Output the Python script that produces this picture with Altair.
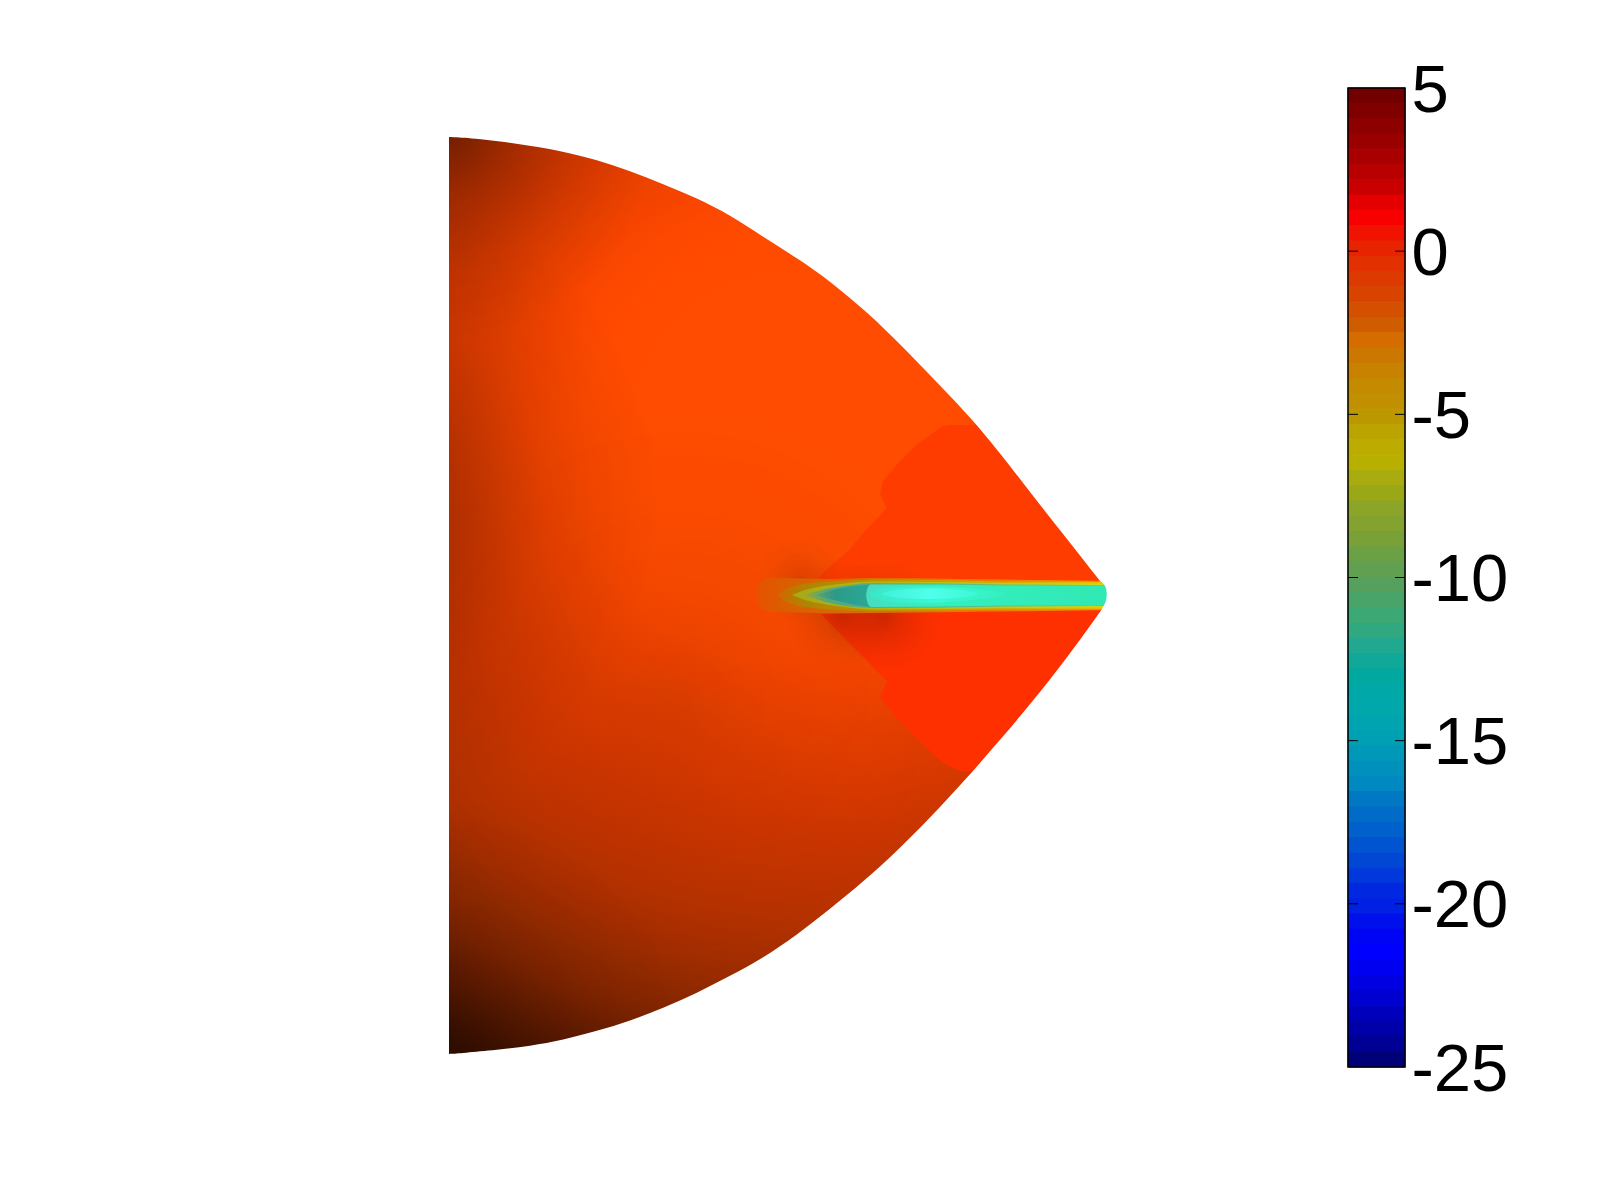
import altair as alt
import pandas as pd

# ---------- colour bar ----------
BAR_TOP, BAR_BOTTOM = 5, -25
TICKS = [5, 0, -5, -10, -15, -20, -25]
INNER_TICKS = [0, -5, -10, -15, -20]
BAND_COLOURS = """#720000 #800000 #8c0000 #9a0000 #a80000 #b80000 #c80000 #e40000 #f80000 #f01400
#e82400 #e23000 #dc3a00 #d84400 #d45000 #d05c00 #d46c00 #cc7800 #c88200 #c48a00
#c09000 #bc9800 #bca400 #bcac00 #b8b000 #a8ac10 #9aa818 #8ca428 #84a230 #7aa038
#6ca044 #60a050 #54a05c #48a468 #3ca874 #30a880 #20a890 #10a898 #00a8a0 #00a8a8
#00a8ac #00a4b0 #00a0b4 #0098b8 #0090bc #0088c0 #0078c4 #006cc8 #0060cc #0054d0
#0048d4 #0038dc #0028e0 #0020e4 #0010ec #0004f4 #0000ff #0000f0 #0000e0 #0000d0
#0000bc #0000a8 #000094 #000078""".split()

# ---------- surface outline: horizontal extent of the surface per row ----------
EDGE_Y = [136, 136, 137, 142, 150, 159, 170, 183, 197, 214, 236, 257, 280, 312, 343, 374, 400, 424, 452,
          495, 538, 580, 580, 582, 586, 593, 601, 606, 608, 608, 657, 700, 739, 777, 817, 850, 881, 908, 934,
          957, 975, 992, 1007, 1020, 1030, 1039, 1045, 1049, 1052, 1053, 1053]
EDGE_X = [449, 449, 473, 513, 563, 597, 630, 663, 697, 730, 763, 797, 830, 868, 900, 930, 955, 977, 1000,
          1033, 1067, 1100, 1100, 1103, 1106, 1107, 1106, 1103, 1102, 1102, 1067, 1033, 1000, 967, 930, 897, 863, 830, 797,
          763, 730, 697, 663, 630, 597, 563, 530, 497, 463, 449, 449]

# ---------- broad shading of the surface ----------
SHADE_CENTRE = (790, 430)
SHADE_REACH = 740
SHADE_RADIUS = [0, 150, 200, 230, 260, 290, 320, 360, 400, 440, 480, 520, 560, 600, 640, 680, 720, 740]
SHADE_COLOUR = ["#ff4c00", "#ff4c00", "#ff4a00", "#fc4800", "#f64400", "#ee4200", "#e63e00", "#dc3a00",
                "#d03600", "#c43400", "#b83200", "#a82e00", "#942a00", "#802400", "#641c00", "#481400",
                "#340e00", "#2c0c00"]

# Darkening blobs: centre x, centre y, reach, peak darkness at the centre
BLOB_X = [445, 440, 330, 680]
BLOB_Y = [130, 1060, 500, 700]
BLOB_R = [210, 260, 330, 300]
BLOB_DARK = [0.42, 0.25, 0.42, 0.09]
WAKE_X = [840, 885, 800]
WAKE_Y = [612, 615, 580]
WAKE_R = [55, 60, 45]
WAKE_DARK = [0.20, 0.18, 0.12]

# ---------- darker red patch ahead of the nose ----------
PATCH_UP_Y = [424, 425, 443, 460, 480, 493, 507, 528, 550, 570, 585, 594]
PATCH_UP_X = [950, 943, 917, 900, 883, 880, 887, 867, 848, 825, 812, 806]
PATCH_LO_Y = [594, 604, 617, 643, 665, 680, 697, 720, 745, 762, 770]
PATCH_LO_X = [806, 812, 825, 850, 872, 887, 880, 900, 925, 943, 960]

# ---------- nested contours of the streak: colour stops, x, upper y, lower y ----------
STREAK = [
    ([(0, "#e85200"), (0.10, "#d86000"), (1, "#f09000")], [756, 758, 763, 773, 800, 830, 870, 960, 1040, 1109],
     [594, 585, 579, 577, 577.5, 578, 577, 578, 579, 580],
     [594, 603, 609, 611, 611.5, 612.5, 612, 611, 610, 609]),
    ([(0, "#d06800"), (0.08, "#b08400"), (1, "#e8c000")], [778, 784, 795, 810, 840, 873, 940, 1005, 1109],
     [594, 589, 585, 582, 580, 578.5, 579, 580.5, 581],
     [594, 600, 604, 606.5, 609, 610, 609.5, 608.5, 608]),
    ([(0, "#a8a818"), (1, "#d8d810")], [792, 802, 818, 840, 873, 940, 1005, 1109],
     [594, 590, 586, 583, 580.5, 581, 582, 582.5],
     [594, 598, 602, 605.5, 608.5, 608, 607, 606.5]),
    ([(0, "#98a830"), (0.08, "#50a880"), (1, "#60d090")], [804, 816, 832, 850, 873, 940, 1005, 1109],
     [594, 590.5, 587, 584, 582, 582.5, 583.5, 584],
     [594, 598, 602.5, 605.5, 607, 606.5, 605.5, 605]),
    ([(0, "#60a070"), (0.35, "#2c9a88"), (1, "#2aa898")], [816, 828, 842, 860, 870],
     [594, 590.5, 587, 584.5, 583.5],
     [594, 597.5, 601, 604.5, 606]),
    ([(0, "#48dcc0"), (0.25, "#34f0c0"), (1, "#30e8b4")], [866, 868, 871, 940, 1005, 1109],
     [594, 586, 583.5, 583.5, 584.5, 585],
     [594, 603, 606, 605.5, 604.5, 604]),
    ([(0, "#38e8c8"), (0.5, "#3cf8d4"), (1, "#34f0c0")], [870, 885, 920, 960, 1005],
     [592, 587, 585.5, 586.5, 592],
     [595, 600, 602, 600, 595]),
    ([(0, "#40f0d8"), (0.5, "#50ffec"), (1, "#3cf8d4")], [882, 900, 930, 955, 978],
     [592, 588.5, 587.5, 588.5, 592],
     [594, 597, 598, 597, 594]),
]

X0, X1 = 449, 1109
Y0, Y1 = 87, 1066
x_scale = alt.Scale(domain=[X0, X1], nice=False, zero=False)
y_scale = alt.Scale(domain=[Y1, Y0], nice=False, zero=False)
X = alt.X("x:Q", scale=x_scale, axis=None)
Y = alt.Y("y:Q", scale=y_scale, axis=None)


def radial(stops):
    return alt.RadialGradient(gradient="radial", x1=0.5, y1=0.5, x2=0.5, y2=0.5, r1=0, r2=0.5,
                              stops=[alt.GradientStop(offset=o, color=c) for o, c in stops])


def linear(stops):
    return alt.LinearGradient(gradient="linear", x1=0, y1=0, x2=1, y2=0,
                              stops=[alt.GradientStop(offset=o, color=c) for o, c in stops])


def disc(cx, cy, reach, fill):
    d = pd.DataFrame({"x": [cx - reach], "x2": [cx + reach], "y": [cy - reach], "y2": [cy + reach]})
    return alt.Chart(d).mark_rect(fill=fill, clip=True).encode(x=X, x2="x2:Q", y=Y, y2="y2:Q")


shade = disc(*SHADE_CENTRE, SHADE_REACH,
             radial(list(zip([r / SHADE_REACH for r in SHADE_RADIUS], SHADE_COLOUR))))


def blob(cx, cy, reach, dark):
    return disc(cx, cy, reach, radial([
        (0, f"rgba(0,0,0,{dark})"),
        (0.3, f"rgba(0,0,0,{dark * 0.55:.3f})"),
        (0.65, f"rgba(0,0,0,{dark * 0.2:.3f})"),
        (1, "rgba(0,0,0,0)"),
    ]))


blobs = [blob(*b) for b in zip(BLOB_X, BLOB_Y, BLOB_R, BLOB_DARK)]
wakes = [blob(*b) for b in zip(WAKE_X, WAKE_Y, WAKE_R, WAKE_DARK)]


def patch(ys, xs, colour):
    d = pd.DataFrame({"y": ys, "x": xs, "x2": [X1] * len(xs)})
    return alt.Chart(d).mark_area(orient="horizontal", color=colour, clip=True).encode(
        y=Y, x=X, x2="x2:Q")


patch_up = patch(PATCH_UP_Y, PATCH_UP_X, "#ff3c00")
patch_lo = patch(PATCH_LO_Y, PATCH_LO_X, "#ff3000")

streak_layers = []
for stops, xs, top, bot in STREAK:
    d = pd.DataFrame({"x": xs, "y": top, "y2": bot})
    streak_layers.append(alt.Chart(d).mark_area(fill=linear(stops), interpolate="monotone", clip=True).encode(
        x=X, y=Y, y2="y2:Q"))

mask = alt.Chart(pd.DataFrame({"y": EDGE_Y, "x": EDGE_X, "x2": [X1] * len(EDGE_X)})).mark_area(
    orient="horizontal", color="white", interpolate="basis", clip=True).encode(y=Y, x=X, x2="x2:Q")
mask_band = alt.Chart(pd.DataFrame({"y": [Y0, EDGE_Y[-1]], "y2": [EDGE_Y[0], Y1]})).mark_rect(color="white").encode(
    y=Y, y2="y2:Q")

field = alt.layer(shade, *blobs, patch_up, patch_lo, *wakes, *streak_layers,
                  mask, mask_band).properties(width=X1 - X0, height=Y1 - Y0)

# ---------- colour bar panel ----------
n = len(BAND_COLOURS)
span = BAR_TOP - BAR_BOTTOM
bands = pd.DataFrame({
    "v": [BAR_TOP - i * span / n for i in range(n)],
    "v2": [BAR_TOP - (i + 1) * span / n for i in range(n)],
    "c": BAND_COLOURS,
})
bar_y = alt.Scale(domain=[BAR_BOTTOM, BAR_TOP], nice=False, zero=False)
bar = alt.Chart(bands).mark_rect(strokeWidth=1).encode(
    y=alt.Y("v:Q", scale=bar_y, title=None, axis=alt.Axis(
        orient="right", values=TICKS, tickSize=0, domain=False, grid=False,
        labelFontSize=67, labelFont="Liberation Sans", labelColor="black",
        labelAlign="left", labelBaseline="middle", labelPadding=6, labelOffset=3,
        labelOverlap=False, labelFlush=False, labelExpr="'' + datum.value")),
    y2="v2:Q",
    color=alt.Color("c:N", scale=None),
    stroke=alt.Stroke("c:N", scale=None),
)
plain_y = alt.Y("v:Q", scale=bar_y, title=None)
box = alt.Chart(pd.DataFrame({"v": [BAR_BOTTOM], "v2": [BAR_TOP]})).mark_rect(
    fill="transparent", stroke="black", strokeWidth=1.5).encode(y=plain_y, y2="v2:Q")
tick_df = pd.DataFrame({"v": INNER_TICKS})
tick_l = alt.Chart(tick_df).mark_rule(color="black", strokeWidth=1).encode(
    x=alt.value(0), x2=alt.value(10), y=plain_y)
tick_r = alt.Chart(tick_df).mark_rule(color="black", strokeWidth=1).encode(
    x=alt.value(47), x2=alt.value(57), y=plain_y)
colorbar = alt.layer(bar, box, tick_l, tick_r).properties(width=57, height=Y1 - Y0)

chart = alt.hconcat(field, colorbar, spacing=238).properties(
    padding={"left": 441, "top": 49, "right": 10, "bottom": 10}, background="white"
).configure_view(strokeWidth=0)

chart.save("out.html", embed_options={"renderer": "svg", "actions": False})
